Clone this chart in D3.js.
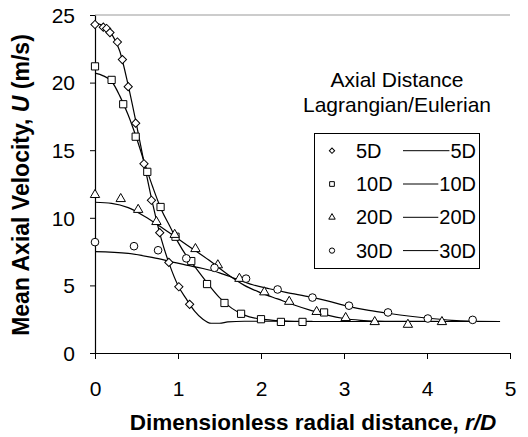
<!DOCTYPE html>
<html>
<head>
<meta charset="utf-8">
<script src="https://cdn.jsdelivr.net/npm/d3@7"></script>
<style>
  body { margin: 0; background: #fff; }
  text { font-family: "Liberation Sans", Arial, sans-serif; fill: #000; }
</style>
</head>
<body>
<svg id="chart" width="528" height="437"></svg>
<script>
// Lagrangian measurements (markers)
const radial5D = [0, 0.1, 0.14, 0.18, 0.27, 0.33, 0.40, 0.49, 0.59, 0.68, 0.78, 0.89, 1.01, 1.14];
const vel5D = [24.3, 24.1, 24.0, 23.7, 23.0, 21.7, 19.7, 17.0, 14.0, 11.3, 8.9, 6.7, 4.9, 3.6];

const radial10D = [0, 0.2, 0.34, 0.49, 0.63, 0.79, 0.97, 1.16, 1.35, 1.56, 1.76, 2.0, 2.24, 2.5, 2.76];
const vel10D = [21.2, 20.2, 18.4, 16.0, 13.4, 10.8, 8.6, 6.8, 5.1, 3.7, 2.9, 2.5, 2.3, 2.3, 3.0];

const radial20D = [0, 0.31, 0.52, 0.74, 0.96, 1.21, 1.48, 1.74, 2.04, 2.34, 2.67, 3.02, 3.37, 3.77, 4.18];
const vel20D = [11.7, 11.4, 10.6, 9.7, 8.75, 7.7, 6.5, 5.5, 4.5, 3.8, 3.05, 2.6, 2.3, 2.1, 2.3];

const radial30D = [0, 0.47, 0.76, 1.10, 1.44, 1.82, 2.20, 2.62, 3.06, 3.53, 4.01, 4.55];
const vel30D = [8.2, 7.9, 7.6, 7.0, 6.3, 5.5, 4.7, 4.1, 3.5, 3.0, 2.55, 2.45];

// Eulerian predictions (lines)
const lineX5D = [0, 0.1, 0.2, 0.3, 0.4, 0.5, 0.6, 0.7, 0.8, 0.9, 1.0, 1.1, 1.2, 1.3, 1.4, 1.5, 1.6, 1.8, 2.62];
const lineU5D = [24.4, 24.2, 23.6, 22.3, 19.8, 16.9, 13.8, 10.9, 8.4, 6.5, 5.0, 4.0, 3.1, 2.5, 2.2, 2.2, 2.3, 2.35, 2.35];

const lineX10D = [0, 0.1, 0.2, 0.3, 0.4, 0.5, 0.6, 0.7, 0.8, 0.9, 1.0, 1.1, 1.2, 1.35, 1.5, 1.65, 1.8, 2.0, 2.2, 2.4, 4.88];
const lineU10D = [20.7, 20.5, 20.1, 19.0, 17.6, 15.9, 14.0, 12.2, 10.6, 9.4, 8.2, 7.2, 6.4, 5.2, 4.1, 3.3, 2.8, 2.5, 2.4, 2.33, 2.33];

const lineX20D = [0, 0.2, 0.4, 0.6, 0.8, 1.0, 1.2, 1.4, 1.6, 1.8, 2.0, 2.2, 2.4, 2.6, 2.8, 3.0, 3.2, 3.4, 3.6, 4.4];
const lineU20D = [11.15, 11.07, 10.75, 10.1, 9.3, 8.45, 7.6, 6.75, 5.8, 5.0, 4.45, 4.0, 3.55, 3.15, 2.8, 2.55, 2.42, 2.36, 2.34, 2.33];

const lineX30D = [0, 0.4, 0.7, 0.9, 1.1, 1.3, 1.5, 1.7, 1.9, 2.1, 2.3, 2.6, 2.8, 3.05, 3.3, 3.55, 3.8, 4.05, 4.3, 4.5, 4.88];
const lineU30D = [7.5, 7.37, 7.05, 6.78, 6.5, 6.25, 5.93, 5.48, 5.05, 4.75, 4.48, 4.13, 3.85, 3.45, 3.15, 2.92, 2.72, 2.55, 2.42, 2.36, 2.33];

const seriesNames = ["5D", "10D", "20D", "30D"];
const xTicks = [0, 1, 2, 3, 4, 5];
const yTicks = [0, 5, 10, 15, 20, 25];

const zip = (xs, ys) => xs.map((x, i) => [x, ys[i]]);
const markerSeries = [
    zip(radial5D, vel5D),
    zip(radial10D, vel10D),
    zip(radial20D, vel20D),
    zip(radial30D, vel30D)
];
const lineSeries = [
    zip(lineX5D, lineU5D),
    zip(lineX10D, lineU10D),
    zip(lineX20D, lineU20D),
    zip(lineX30D, lineU30D)
];

const svg = d3.select("#chart");
const x = d3.scaleLinear().domain([0, 5]).range([95, 510]);
const y = d3.scaleLinear().domain([0, 25]).range([353, 15]);

// marker shapes: diamond, square, triangle, circle
const shapes = [
    { type: d3.symbolSquare, size: 34, rotate: 45 },
    { type: d3.symbolSquare, size: 52, rotate: 0 },
    { type: d3.symbolTriangle, size: 38, rotate: 0 },
    { type: d3.symbolCircle, size: 46, rotate: 0 }
];
const legendShapes = [
    { type: d3.symbolSquare, size: 14, rotate: 45 },
    { type: d3.symbolSquare, size: 22, rotate: 0 },
    { type: d3.symbolTriangle, size: 18, rotate: 0 },
    { type: d3.symbolCircle, size: 22, rotate: 0 }
];

// top border line at 25
svg.append("line")
    .attr("x1", x(0)).attr("x2", x(5))
    .attr("y1", y(25)).attr("y2", y(25))
    .attr("stroke", "#999").attr("stroke-width", 1);

// axes
const xAxis = svg.append("g")
    .attr("transform", `translate(0, ${y(0)})`)
    .call(d3.axisBottom(x).tickValues(xTicks).tickFormat(d3.format("d"))
        .tickSize(6).tickPadding(22).tickSizeOuter(0));
const yAxis = svg.append("g")
    .attr("transform", `translate(${x(0)}, 0)`)
    .call(d3.axisLeft(y).tickValues(yTicks).tickFormat(d3.format("d"))
        .tickSize(5).tickPadding(15).tickSizeOuter(0));
[xAxis, yAxis].forEach(g => {
    g.select(".domain").attr("stroke", "#000").attr("stroke-width", 1.2);
    g.selectAll(".tick line").attr("stroke", "#000");
    g.selectAll(".tick text")
        .style("font-size", "21px")
        .style("font-family", "'Liberation Sans', Arial, sans-serif")
        .attr("fill", "#000");
});
yAxis.selectAll(".tick text").attr("dy", "0.35em");

// Eulerian lines
const line = d3.line()
    .x(d => x(d[0]))
    .y(d => y(d[1]))
    .curve(d3.curveMonotoneX);
svg.append("g")
    .selectAll("path")
    .data(lineSeries)
    .join("path")
    .attr("d", line)
    .attr("fill", "none")
    .attr("stroke", "#000")
    .attr("stroke-width", 1.2);

// Lagrangian markers
markerSeries.forEach((points, si) => {
    const shape = shapes[si];
    svg.append("g")
        .selectAll("path")
        .data(points)
        .join("path")
        .attr("d", d3.symbol().type(shape.type).size(shape.size)())
        .attr("transform", d => `translate(${x(d[0])}, ${y(d[1])}) rotate(${shape.rotate})`)
        .attr("fill", "#fff")
        .attr("stroke", "#000")
        .attr("stroke-width", 1);
});

// axis titles
svg.append("text")
    .attr("x", 313).attr("y", 430)
    .attr("text-anchor", "middle")
    .style("font-size", "22.5px")
    .style("font-weight", "bold")
    .html('Dimensionless radial distance, <tspan font-style="italic">r/D</tspan>');
svg.append("text")
    .attr("transform", "translate(29, 185) rotate(-90)")
    .attr("text-anchor", "middle")
    .style("font-size", "23px")
    .style("font-weight", "bold")
    .html('Mean Axial Velocity, <tspan font-style="italic">U</tspan> (m/s)');

// legend
const legendTitle = svg.append("g").attr("transform", "translate(397, 0)");
legendTitle.append("text").attr("y", 87).attr("text-anchor", "middle")
    .style("font-size", "21px").text("Axial Distance");
legendTitle.append("text").attr("y", 112).attr("text-anchor", "middle")
    .style("font-size", "21px").text("Lagrangian/Eulerian");

svg.append("rect")
    .attr("x", 314.5).attr("y", 133.5)
    .attr("width", 165).attr("height", 135)
    .attr("fill", "#fff").attr("stroke", "#000").attr("stroke-width", 1);

const rows = svg.append("g")
    .selectAll("g")
    .data(seriesNames)
    .join("g")
    .attr("transform", (d, i) => `translate(0, ${150.7 + i * 33.3})`);
rows.append("path")
    .attr("d", (d, i) => d3.symbol().type(legendShapes[i].type).size(legendShapes[i].size)())
    .attr("transform", (d, i) => `translate(332, 0) rotate(${legendShapes[i].rotate})`)
    .attr("fill", "#fff").attr("stroke", "#000").attr("stroke-width", 1);
rows.append("text")
    .attr("x", 356).attr("dy", "0.35em")
    .style("font-size", "20px")
    .text(d => d);
rows.append("text")
    .attr("class", "right")
    .attr("x", 476).attr("dy", "0.35em")
    .attr("text-anchor", "end")
    .style("font-size", "20px")
    .text(d => d);
rows.each((d, i, n) => {
    const row = d3.select(n[i]);
    const w = row.select("text.right").node().getComputedTextLength();
    row.append("line")
        .attr("x1", 403).attr("x2", 476 - w - 1)
        .attr("y1", 0).attr("y2", 0)
        .attr("stroke", "#000").attr("stroke-width", 1);
});
</script>
</body>
</html>
